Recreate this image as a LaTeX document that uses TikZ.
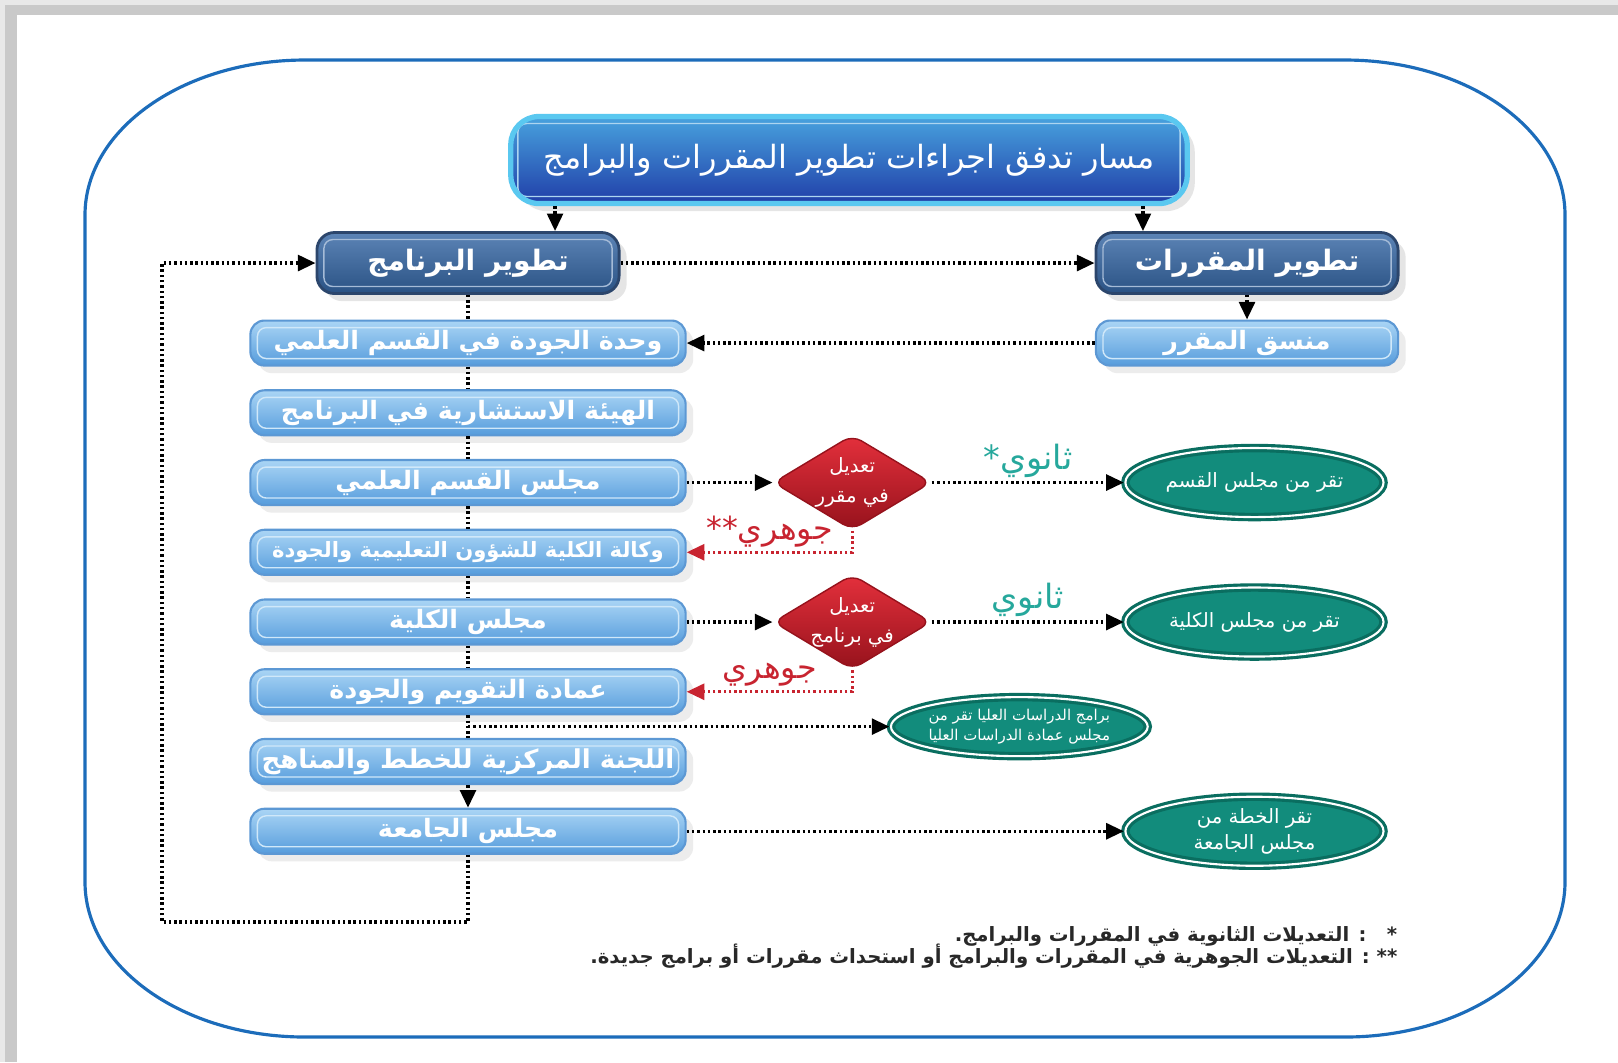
\documentclass[tikz,border=0pt]{standalone}
\usepackage{fontspec}
\usetikzlibrary{positioning,shapes.geometric,arrows.meta,shadows,calc}
\newfontfamily\arabicfont[Script=Arabic]{DejaVu Sans}
\TeXXeTstate=1
\newcommand{\artext}[1]{\beginR #1\endR}

\definecolor{frameblue}{RGB}{28,108,186}
\definecolor{titletop}{RGB}{72,162,222}
\definecolor{titlebot}{RGB}{32,62,168}
\definecolor{titleedge}{RGB}{90,200,240}
\definecolor{phasetop}{RGB}{92,132,182}
\definecolor{phasebot}{RGB}{42,82,132}
\definecolor{phaseedge}{RGB}{44,70,108}
\definecolor{unittop}{RGB}{170,213,245}
\definecolor{unitbot}{RGB}{86,156,220}
\definecolor{unitedge}{RGB}{92,152,212}
\definecolor{dectop}{RGB}{228,48,60}
\definecolor{decbot}{RGB}{150,18,28}
\definecolor{apprfill}{RGB}{18,140,124}
\definecolor{appredge}{RGB}{10,110,96}
\definecolor{minorcol}{RGB}{38,168,156}
\definecolor{majorcol}{RGB}{200,36,48}
\definecolor{notecol}{RGB}{40,40,40}

\tikzset{
  inner line/.style={path picture={\draw[#1, line width=0.4pt, rounded corners=2.5pt]
    ([shift={(2pt,-2pt)}]path picture bounding box.north west) rectangle
    ([shift={(-2pt,2pt)}]path picture bounding box.south east);}}
}

\begin{document}
\begin{tikzpicture}[x=0.01cm, y=-0.01cm, node distance=6.97mm, font=\arabicfont]
% Define styles
\tikzstyle{titlebox} = [rectangle, rounded corners=8pt, draw=titleedge, line width=1.5pt, top color=titletop, bottom color=titlebot, text=white, minimum width=6.76cm, minimum height=0.87cm, inner line=white!55!titletop, drop shadow={opacity=0.2}, font=\arabicfont\fontsize{9.1}{11}\selectfont]
\tikzstyle{phasebox} = [rectangle, rounded corners=5pt, draw=phaseedge, line width=0.8pt, top color=phasetop, bottom color=phasebot, text=white, minimum width=3.02cm, minimum height=0.61cm, inner line=white!45!phasetop, drop shadow={opacity=0.2}, font=\arabicfont\bfseries\fontsize{8}{10}\selectfont]
\tikzstyle{unitbox} = [rectangle, rounded corners=4pt, draw=unitedge, line width=0.6pt, top color=unittop, bottom color=unitbot, text=white, minimum width=4.35cm, minimum height=0.45cm, inner sep=1pt, inner line=white!45!unittop, drop shadow={opacity=0.15}, font=\arabicfont\bfseries\fontsize{7.2}{9}\selectfont]
\tikzstyle{decision} = [diamond, aspect=1.63, rounded corners=3pt, draw=decbot, top color=dectop, bottom color=decbot, text=white, minimum width=1.58cm, minimum height=0.95cm, inner sep=-1pt, align=center, font=\arabicfont\fontsize{5.6}{8.5}\selectfont]
\tikzstyle{approval} = [ellipse, fill=apprfill, draw=appredge, line width=0.9pt, double=white, double distance=0.6pt, text=white, minimum width=2.58cm, minimum height=0.69cm, inner sep=0pt, align=center, font=\arabicfont\fontsize{5.6}{7.5}\selectfont]
\tikzstyle{flow} = [draw=black, line width=0.9pt, dash pattern=on 0.7pt off 0.8pt, -{Triangle[length=5pt,width=4.5pt]}]
\tikzstyle{link} = [draw=black, line width=0.9pt, dash pattern=on 0.7pt off 0.8pt]
\tikzstyle{majorflow} = [draw=majorcol, line width=0.9pt, dash pattern=on 0.7pt off 0.8pt, -{Triangle[length=5pt,width=4.5pt]}]
\tikzstyle{minorlabel} = [text=minorcol, inner sep=1pt, font=\arabicfont\fontsize{9.5}{10}\selectfont]
\tikzstyle{majorlabel} = [text=majorcol, inner sep=1pt, font=\arabicfont\fontsize{9}{10}\selectfont]
\tikzstyle{note} = [text=notecol, inner sep=0pt, font=\arabicfont\bfseries\fontsize{5.6}{7}\selectfont]

% Page, shadow edges and frame
\useasboundingbox (0,0) rectangle (1618,1062);
\fill[white] (0,0) rectangle (1618,1062);
\fill[gray!18] (0,0) rectangle (1618,15);
\fill[gray!18] (0,0) rectangle (17,1062);
\fill[gray!42] (5,5) rectangle (1618,15);
\fill[gray!42] (5,5) rectangle (17,1062);
\draw[frameblue, line width=0.9pt] (305,60) -- (1345,60) .. controls (1466.5,60) and (1565,129.4) .. (1565,215) -- (1565,882) .. controls (1565,967.6) and (1466.5,1037) .. (1345,1037) -- (305,1037) .. controls (183.5,1037) and (85,967.6) .. (85,882) -- (85,215) .. controls (85,129.4) and (183.5,60) .. cycle;

% Define nodes (headers)
\node[titlebox] (flowtitle) at (849,160) {\artext{مسار تدفق اجراءات تطوير المقررات والبرامج}};
\node[phasebox] (progdev) at (468,263) {\artext{تطوير البرنامج}};
\node[phasebox] (coursedev) at (1247,263) {\artext{تطوير المقررات}};
\node[unitbox, minimum width=3.02cm, node distance=8mm, below of=coursedev] (coordinator) {\artext{منسق المقرر}};

% Define nodes (program chain)
\node[unitbox, node distance=8mm, below of=progdev] (qualityunit) {\artext{وحدة الجودة في القسم العلمي}};
\node[unitbox, below of=qualityunit] (advisory) {\artext{الهيئة الاستشارية في البرنامج}};
\node[unitbox, below of=advisory] (deptcouncil) {\artext{مجلس القسم العلمي}};
\node[unitbox, below of=deptcouncil, font=\arabicfont\bfseries\fontsize{6}{8}\selectfont] (vicedean) {\artext{وكالة الكلية للشؤون التعليمية والجودة}};
\node[unitbox, below of=vicedean] (faccouncil) {\artext{مجلس الكلية}};
\node[unitbox, below of=faccouncil] (assessment) {\artext{عمادة التقويم والجودة}};
\node[unitbox, below of=assessment, font=\arabicfont\bfseries\fontsize{7.4}{9}\selectfont] (plancommittee) {\artext{اللجنة المركزية للخطط والمناهج}};
\node[unitbox, below of=plancommittee] (unicouncil) {\artext{مجلس الجامعة}};

% Define nodes (decisions and approvals)
\node[decision] (coursemod) at ([xshift=3.84cm]deptcouncil) {\artext{تعديل}\\\artext{في مقرر}};
\node[decision] (progmod) at ([xshift=3.84cm]faccouncil) {\artext{تعديل}\\\artext{في برنامج}};
\node[approval] (deptapprove) at ([xshift=7.86cm]deptcouncil) {\artext{تقر من مجلس القسم}};
\node[approval] (facapprove) at ([xshift=7.86cm]faccouncil) {\artext{تقر من مجلس الكلية}};
\coordinate (branch) at ($(assessment.south)!0.5!(plancommittee.north)$);
\node[approval, minimum width=2.27cm, minimum height=0.59cm, font=\arabicfont\fontsize{4.25}{5.5}\selectfont] (gradapprove) at ([xshift=5.51cm]branch) {\artext{برامج الدراسات العليا تقر من}\\\artext{مجلس عمادة الدراسات العليا}};
\node[approval] (uniapprove) at ([xshift=7.86cm]unicouncil) {\artext{تقر الخطة من}\\\artext{مجلس الجامعة}};

% Footnotes
\node[note, anchor=east] (minornote) at (1398,936) {\artext{*\ \ \ : التعديلات الثانوية في المقررات والبرامج.}};
\node[note, anchor=east] (majornote) at (1398,956) {\artext{** : التعديلات الجوهرية في المقررات والبرامج أو استحداث مقررات أو برامج جديدة.}};

% Relationships (arrows)
\coordinate (progin) at ([xshift=0.87cm]progdev.north);
\coordinate (coursein) at ([xshift=-1.04cm]coursedev.north);
\draw[flow] (progin |- flowtitle.south) -- (progin);
\draw[flow] (coursein |- flowtitle.south) -- (coursein);
\draw[flow] (progdev) -- (coursedev);
\draw[flow] (coursedev) -- (coordinator);
\draw[flow] (coordinator) -- (qualityunit);
\foreach \a/\b in {progdev/qualityunit, qualityunit/advisory, advisory/deptcouncil, deptcouncil/vicedean, vicedean/faccouncil, faccouncil/assessment, assessment/plancommittee}
  \draw[link] (\a) -- (\b);
\draw[flow] (plancommittee) -- (unicouncil);
\draw[flow] (deptcouncil) -- (coursemod);
\draw[flow] (coursemod) -- node[minorlabel, above] {\artext{ثانوي*}} (deptapprove);
\draw[majorflow] (coursemod.south) |- node[majorlabel, pos=0.75, above] {\artext{جوهري**}} (vicedean.east);
\draw[flow] (faccouncil) -- (progmod);
\draw[flow] (progmod) -- node[minorlabel, above] {\artext{ثانوي}} (facapprove);
\draw[majorflow] (progmod.south) |- node[majorlabel, pos=0.75, above] {\artext{جوهري}} (assessment.east);
\draw[flow] (branch) -- (gradapprove);
\draw[flow] (unicouncil) -- (uniapprove);
\coordinate (loopcorner) at (162,922);
\draw[flow] (unicouncil.south) |- (loopcorner) |- (progdev.west);

\end{tikzpicture}
\end{document}
